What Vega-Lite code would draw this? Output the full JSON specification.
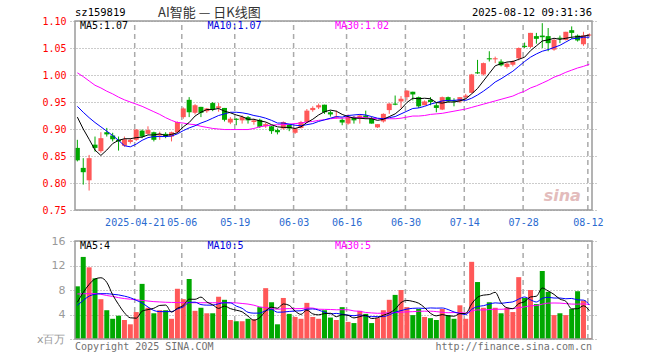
{
  "$schema": "https://vega.github.io/schema/vega-lite/v6.json",
  "width": 527,
  "height": 319,
  "autosize": {"type": "none"},
  "padding": {"left": 70, "top": 21, "right": 63, "bottom": 20},
  "background": "#ffffff",
  "config": {
    "view": {"stroke": null},
    "axis": {"labelFont": "DejaVu Sans Mono", "labelFontSize": 10},
    "text": {"font": "DejaVu Sans Mono", "fontSize": 10, "baseline": "middle"}
  },
  "data": {"values": [
{"i":0,"d":"04-07","o":0.865,"c":0.842,"h":0.880,"l":0.840,"v":8.6,"m5":0.922,"m10":0.942,"m30":1.004,"a5":6.0,"a10":5.5,"a30":7.35},
{"i":1,"d":"04-08","o":0.828,"c":0.820,"h":0.846,"l":0.797,"v":13.4,"m5":0.900,"m10":0.931,"m30":0.997,"a5":7.6,"a10":6.3,"a30":7.38},
{"i":2,"d":"04-09","o":0.805,"c":0.846,"h":0.852,"l":0.786,"v":11.7,"m5":0.881,"m10":0.921,"m30":0.989,"a5":8.9,"a10":7.0,"a30":7.4},
{"i":3,"d":"04-10","o":0.871,"c":0.865,"h":0.886,"l":0.858,"v":9.9,"m5":0.861,"m10":0.912,"m30":0.981,"a5":9.8,"a10":7.3,"a30":7.42},
{"i":4,"d":"04-11","o":0.859,"c":0.883,"h":0.894,"l":0.856,"v":6.5,"m5":0.851,"m10":0.904,"m30":0.976,"a5":10.0,"a10":7.4,"a30":7.3},
{"i":5,"d":"04-14","o":0.894,"c":0.890,"h":0.902,"l":0.886,"v":4.7,"m5":0.861,"m10":0.896,"m30":0.970,"a5":9.24,"a10":7.4,"a30":7.1},
{"i":6,"d":"04-15","o":0.888,"c":0.881,"h":0.893,"l":0.877,"v":3.3,"m5":0.873,"m10":0.888,"m30":0.965,"a5":7.22,"a10":7.3,"a30":6.95},
{"i":7,"d":"04-16","o":0.880,"c":0.877,"h":0.886,"l":0.860,"v":3.8,"m5":0.879,"m10":0.879,"m30":0.959,"a5":5.64,"a10":7.2,"a30":6.75},
{"i":8,"d":"04-17","o":0.869,"c":0.881,"h":0.886,"l":0.867,"v":3.1,"m5":0.882,"m10":0.869,"m30":0.954,"a5":4.28,"a10":7.0,"a30":6.6},
{"i":9,"d":"04-18","o":0.876,"c":0.880,"h":0.883,"l":0.873,"v":2.4,"m5":0.882,"m10":0.867,"m30":0.950,"a5":3.46,"a10":6.74,"a30":6.5},
{"i":10,"d":"04-21","o":0.880,"c":0.899,"h":0.900,"l":0.878,"v":4.4,"m5":0.884,"m10":0.872,"m30":0.946,"a5":3.4,"a10":6.32,"a30":6.4},
{"i":11,"d":"04-22","o":0.897,"c":0.886,"h":0.899,"l":0.883,"v":9.0,"m5":0.885,"m10":0.879,"m30":0.942,"a5":4.54,"a10":5.88,"a30":6.3},
{"i":12,"d":"04-23","o":0.891,"c":0.898,"h":0.905,"l":0.890,"v":5.1,"m5":0.889,"m10":0.884,"m30":0.937,"a5":4.8,"a10":5.22,"a30":6.2},
{"i":13,"d":"04-24","o":0.894,"c":0.880,"h":0.895,"l":0.877,"v":4.2,"m5":0.889,"m10":0.886,"m30":0.932,"a5":5.02,"a10":4.65,"a30":6.1},
{"i":14,"d":"04-25","o":0.888,"c":0.891,"h":0.895,"l":0.880,"v":4.7,"m5":0.891,"m10":0.886,"m30":0.927,"a5":5.48,"a10":4.47,"a30":6.05},
{"i":15,"d":"04-28","o":0.891,"c":0.886,"h":0.894,"l":0.883,"v":4.7,"m5":0.888,"m10":0.886,"m30":0.921,"a5":5.54,"a10":4.47,"a30":6.0},
{"i":16,"d":"04-29","o":0.886,"c":0.894,"h":0.895,"l":0.877,"v":3.3,"m5":0.890,"m10":0.887,"m30":0.916,"a5":4.4,"a10":4.47,"a30":5.97},
{"i":17,"d":"04-30","o":0.894,"c":0.913,"h":0.914,"l":0.892,"v":8.2,"m5":0.893,"m10":0.891,"m30":0.912,"a5":5.02,"a10":4.91,"a30":5.95},
{"i":18,"d":"05-06","o":0.922,"c":0.938,"h":0.940,"l":0.919,"v":6.5,"m5":0.904,"m10":0.897,"m30":0.911,"a5":5.48,"a10":5.25,"a30":5.93},
{"i":19,"d":"05-07","o":0.954,"c":0.931,"h":0.959,"l":0.922,"v":9.8,"m5":0.912,"m10":0.902,"m30":0.909,"a5":6.5,"a10":5.99,"a30":5.92},
{"i":20,"d":"05-08","o":0.930,"c":0.944,"h":0.946,"l":0.927,"v":4.6,"m5":0.924,"m10":0.906,"m30":0.908,"a5":6.48,"a10":6.01,"a30":5.92},
{"i":21,"d":"05-09","o":0.941,"c":0.930,"h":0.941,"l":0.922,"v":5.1,"m5":0.931,"m10":0.911,"m30":0.905,"a5":6.84,"a10":5.62,"a30":5.92},
{"i":22,"d":"05-12","o":0.933,"c":0.938,"h":0.939,"l":0.930,"v":4.2,"m5":0.936,"m10":0.915,"m30":0.903,"a5":6.04,"a10":5.53,"a30":5.92},
{"i":23,"d":"05-13","o":0.948,"c":0.936,"h":0.950,"l":0.933,"v":4.2,"m5":0.936,"m10":0.920,"m30":0.901,"a5":5.58,"a10":5.53,"a30":5.92},
{"i":24,"d":"05-14","o":0.939,"c":0.942,"h":0.948,"l":0.932,"v":6.9,"m5":0.938,"m10":0.925,"m30":0.900,"a5":5.0,"a10":5.75,"a30":5.92},
{"i":25,"d":"05-15","o":0.939,"c":0.917,"h":0.939,"l":0.914,"v":6.4,"m5":0.933,"m10":0.928,"m30":0.899,"a5":5.36,"a10":5.92,"a30":5.92},
{"i":26,"d":"05-16","o":0.912,"c":0.919,"h":0.922,"l":0.909,"v":3.1,"m5":0.930,"m10":0.931,"m30":0.899,"a5":4.96,"a10":5.9,"a30":5.92},
{"i":27,"d":"05-19","o":0.919,"c":0.917,"h":0.920,"l":0.907,"v":2.9,"m5":0.926,"m10":0.931,"m30":0.899,"a5":4.7,"a10":5.37,"a30":5.9},
{"i":28,"d":"05-20","o":0.916,"c":0.922,"h":0.925,"l":0.910,"v":2.9,"m5":0.923,"m10":0.930,"m30":0.899,"a5":4.44,"a10":5.01,"a30":5.8},
{"i":29,"d":"05-21","o":0.922,"c":0.916,"h":0.924,"l":0.910,"v":3.3,"m5":0.918,"m10":0.928,"m30":0.899,"a5":3.72,"a10":4.36,"a30":5.7},
{"i":30,"d":"05-22","o":0.913,"c":0.916,"h":0.919,"l":0.908,"v":3.2,"m5":0.918,"m10":0.925,"m30":0.901,"a5":3.08,"a10":4.22,"a30":5.52},
{"i":31,"d":"05-23","o":0.917,"c":0.904,"h":0.919,"l":0.902,"v":5.2,"m5":0.915,"m10":0.923,"m30":0.904,"a5":3.5,"a10":4.23,"a30":5.24},
{"i":32,"d":"05-26","o":0.905,"c":0.909,"h":0.912,"l":0.902,"v":8.3,"m5":0.913,"m10":0.920,"m30":0.906,"a5":4.58,"a10":4.64,"a30":5.13},
{"i":33,"d":"05-27","o":0.905,"c":0.896,"h":0.906,"l":0.891,"v":6.0,"m5":0.908,"m10":0.916,"m30":0.907,"a5":5.2,"a10":4.82,"a30":5.0},
{"i":34,"d":"05-28","o":0.898,"c":0.894,"h":0.901,"l":0.890,"v":2.4,"m5":0.904,"m10":0.911,"m30":0.908,"a5":5.02,"a10":4.37,"a30":4.86},
{"i":35,"d":"05-29","o":0.901,"c":0.913,"h":0.914,"l":0.899,"v":6.7,"m5":0.903,"m10":0.911,"m30":0.908,"a5":5.72,"a10":4.4,"a30":4.93},
{"i":36,"d":"05-30","o":0.908,"c":0.901,"h":0.909,"l":0.896,"v":4.1,"m5":0.903,"m10":0.909,"m30":0.909,"a5":5.5,"a10":4.5,"a30":4.96},
{"i":37,"d":"06-03","o":0.893,"c":0.901,"h":0.902,"l":0.891,"v":3.6,"m5":0.901,"m10":0.907,"m30":0.910,"a5":4.56,"a10":4.57,"a30":4.95},
{"i":38,"d":"06-04","o":0.902,"c":0.913,"h":0.915,"l":0.901,"v":3.3,"m5":0.904,"m10":0.906,"m30":0.911,"a5":4.02,"a10":4.61,"a30":4.96},
{"i":39,"d":"06-05","o":0.913,"c":0.934,"h":0.937,"l":0.911,"v":5.9,"m5":0.912,"m10":0.908,"m30":0.913,"a5":4.72,"a10":4.87,"a30":5.07},
{"i":40,"d":"06-06","o":0.935,"c":0.939,"h":0.942,"l":0.932,"v":3.6,"m5":0.918,"m10":0.910,"m30":0.914,"a5":4.1,"a10":4.91,"a30":5.05},
{"i":41,"d":"06-09","o":0.940,"c":0.944,"h":0.947,"l":0.937,"v":3.3,"m5":0.926,"m10":0.914,"m30":0.916,"a5":3.94,"a10":4.72,"a30":4.86},
{"i":42,"d":"06-10","o":0.945,"c":0.931,"h":0.945,"l":0.928,"v":4.7,"m5":0.932,"m10":0.917,"m30":0.917,"a5":4.16,"a10":4.36,"a30":4.84},
{"i":43,"d":"06-11","o":0.931,"c":0.927,"h":0.934,"l":0.923,"v":3.5,"m5":0.935,"m10":0.920,"m30":0.919,"a5":4.2,"a10":4.11,"a30":4.82},
{"i":44,"d":"06-12","o":0.921,"c":0.923,"h":0.934,"l":0.919,"v":3.1,"m5":0.933,"m10":0.923,"m30":0.920,"a5":3.64,"a10":4.18,"a30":4.77},
{"i":45,"d":"06-13","o":0.917,"c":0.912,"h":0.920,"l":0.907,"v":5.2,"m5":0.927,"m10":0.922,"m30":0.920,"a5":3.96,"a10":4.03,"a30":4.78},
{"i":46,"d":"06-16","o":0.910,"c":0.922,"h":0.927,"l":0.908,"v":2.8,"m5":0.923,"m10":0.925,"m30":0.921,"a5":3.86,"a10":3.9,"a30":4.77},
{"i":47,"d":"06-17","o":0.922,"c":0.916,"h":0.924,"l":0.910,"v":2.6,"m5":0.920,"m10":0.926,"m30":0.922,"a5":3.44,"a10":3.8,"a30":4.58},
{"i":48,"d":"06-18","o":0.919,"c":0.925,"h":0.927,"l":0.910,"v":4.6,"m5":0.920,"m10":0.927,"m30":0.921,"a5":3.66,"a10":3.93,"a30":4.52},
{"i":49,"d":"06-19","o":0.925,"c":0.920,"h":0.934,"l":0.919,"v":4.1,"m5":0.919,"m10":0.926,"m30":0.921,"a5":3.86,"a10":3.75,"a30":4.33},
{"i":50,"d":"06-20","o":0.920,"c":0.910,"h":0.923,"l":0.910,"v":2.6,"m5":0.919,"m10":0.923,"m30":0.920,"a5":3.34,"a10":3.65,"a30":4.26},
{"i":51,"d":"06-23","o":0.903,"c":0.909,"h":0.909,"l":0.902,"v":3.4,"m5":0.916,"m10":0.920,"m30":0.919,"a5":3.46,"a10":3.66,"a30":4.2},
{"i":52,"d":"06-24","o":0.914,"c":0.928,"h":0.929,"l":0.912,"v":4.7,"m5":0.918,"m10":0.919,"m30":0.919,"a5":3.88,"a10":3.66,"a30":4.22},
{"i":53,"d":"06-25","o":0.935,"c":0.947,"h":0.948,"l":0.928,"v":6.4,"m5":0.923,"m10":0.921,"m30":0.919,"a5":4.24,"a10":3.95,"a30":4.29},
{"i":54,"d":"06-26","o":0.947,"c":0.945,"h":0.962,"l":0.944,"v":7.2,"m5":0.928,"m10":0.923,"m30":0.919,"a5":4.86,"a10":4.36,"a30":4.3},
{"i":55,"d":"06-27","o":0.951,"c":0.956,"h":0.961,"l":0.939,"v":8.0,"m5":0.937,"m10":0.928,"m30":0.920,"a5":5.94,"a10":4.64,"a30":4.36},
{"i":56,"d":"06-30","o":0.959,"c":0.971,"h":0.972,"l":0.953,"v":5.2,"m5":0.949,"m10":0.933,"m30":0.922,"a5":6.3,"a10":4.88,"a30":4.43},
{"i":57,"d":"07-01","o":0.969,"c":0.964,"h":0.969,"l":0.953,"v":3.9,"m5":0.957,"m10":0.938,"m30":0.924,"a5":6.14,"a10":5.01,"a30":4.46},
{"i":58,"d":"07-02","o":0.959,"c":0.942,"h":0.960,"l":0.939,"v":4.9,"m5":0.956,"m10":0.939,"m30":0.924,"a5":5.84,"a10":5.04,"a30":4.53},
{"i":59,"d":"07-03","o":0.944,"c":0.951,"h":0.953,"l":0.944,"v":3.6,"m5":0.957,"m10":0.942,"m30":0.925,"a5":5.12,"a10":4.99,"a30":4.54},
{"i":60,"d":"07-04","o":0.954,"c":0.950,"h":0.959,"l":0.944,"v":3.4,"m5":0.956,"m10":0.946,"m30":0.927,"a5":4.2,"a10":5.07,"a30":4.54},
{"i":61,"d":"07-07","o":0.944,"c":0.939,"h":0.948,"l":0.931,"v":3.1,"m5":0.949,"m10":0.949,"m30":0.928,"a5":3.78,"a10":5.04,"a30":4.47},
{"i":62,"d":"07-08","o":0.936,"c":0.959,"h":0.960,"l":0.935,"v":4.9,"m5":0.948,"m10":0.952,"m30":0.929,"a5":3.98,"a10":5.06,"a30":4.36},
{"i":63,"d":"07-09","o":0.959,"c":0.951,"h":0.960,"l":0.950,"v":3.9,"m5":0.950,"m10":0.953,"m30":0.931,"a5":3.78,"a10":4.81,"a30":4.29},
{"i":64,"d":"07-10","o":0.953,"c":0.951,"h":0.957,"l":0.942,"v":3.3,"m5":0.950,"m10":0.953,"m30":0.933,"a5":3.72,"a10":4.42,"a30":4.32},
{"i":65,"d":"07-11","o":0.951,"c":0.959,"h":0.959,"l":0.948,"v":5.5,"m5":0.952,"m10":0.954,"m30":0.935,"a5":4.14,"a10":4.17,"a30":4.28},
{"i":66,"d":"07-14","o":0.959,"c":0.962,"h":0.965,"l":0.955,"v":3.3,"m5":0.956,"m10":0.953,"m30":0.937,"a5":4.18,"a10":3.98,"a30":4.25},
{"i":67,"d":"07-15","o":0.967,"c":1.001,"h":1.002,"l":0.966,"v":12.6,"m5":0.965,"m10":0.957,"m30":0.940,"a5":5.72,"a10":4.85,"a30":4.55},
{"i":68,"d":"07-16","o":1.005,"c":1.003,"h":1.028,"l":1.002,"v":9.3,"m5":0.975,"m10":0.963,"m30":0.943,"a5":6.8,"a10":5.29,"a30":4.75},
{"i":69,"d":"07-17","o":1.001,"c":1.022,"h":1.023,"l":0.999,"v":5.1,"m5":0.989,"m10":0.970,"m30":0.946,"a5":7.16,"a10":5.44,"a30":4.73},
{"i":70,"d":"07-18","o":1.031,"c":1.029,"h":1.044,"l":1.025,"v":6.0,"m5":1.003,"m10":0.978,"m30":0.949,"a5":7.26,"a10":5.7,"a30":4.81},
{"i":71,"d":"07-21","o":1.029,"c":1.031,"h":1.034,"l":1.022,"v":5.1,"m5":1.017,"m10":0.987,"m30":0.952,"a5":7.62,"a10":5.9,"a30":4.87},
{"i":72,"d":"07-22","o":1.025,"c":1.018,"h":1.029,"l":1.016,"v":4.2,"m5":1.021,"m10":0.993,"m30":0.955,"a5":5.94,"a10":5.83,"a30":4.85},
{"i":73,"d":"07-23","o":1.015,"c":1.021,"h":1.023,"l":1.012,"v":5.1,"m5":1.024,"m10":1.000,"m30":0.958,"a5":5.1,"a10":5.95,"a30":4.9},
{"i":74,"d":"07-24","o":1.019,"c":1.025,"h":1.027,"l":1.016,"v":4.4,"m5":1.025,"m10":1.007,"m30":0.961,"a5":4.96,"a10":6.06,"a30":4.95},
{"i":75,"d":"07-25","o":1.031,"c":1.050,"h":1.051,"l":1.027,"v":10.1,"m5":1.029,"m10":1.016,"m30":0.966,"a5":5.78,"a10":6.52,"a30":5.11},
{"i":76,"d":"07-28","o":1.054,"c":1.052,"h":1.060,"l":1.050,"v":6.7,"m5":1.033,"m10":1.025,"m30":0.970,"a5":6.1,"a10":6.86,"a30":5.24},
{"i":77,"d":"07-29","o":1.052,"c":1.078,"h":1.078,"l":1.050,"v":8.0,"m5":1.045,"m10":1.033,"m30":0.976,"a5":6.86,"a10":6.4,"a30":5.42},
{"i":78,"d":"07-30","o":1.072,"c":1.067,"h":1.078,"l":1.058,"v":5.7,"m5":1.054,"m10":1.039,"m30":0.980,"a5":6.98,"a10":6.04,"a30":5.46},
{"i":79,"d":"07-31","o":1.073,"c":1.070,"h":1.096,"l":1.050,"v":11.1,"m5":1.063,"m10":1.044,"m30":0.985,"a5":8.32,"a10":6.64,"a30":5.69},
{"i":80,"d":"08-01","o":1.072,"c":1.059,"h":1.087,"l":1.044,"v":7.7,"m5":1.065,"m10":1.047,"m30":0.990,"a5":7.84,"a10":6.81,"a30":5.86},
{"i":81,"d":"08-04","o":1.047,"c":1.065,"h":1.067,"l":1.045,"v":3.9,"m5":1.068,"m10":1.051,"m30":0.996,"a5":7.28,"a10":6.69,"a30":5.88},
{"i":82,"d":"08-05","o":1.069,"c":1.067,"h":1.073,"l":1.059,"v":4.2,"m5":1.066,"m10":1.055,"m30":1.000,"a5":6.52,"a10":6.69,"a30":5.86},
{"i":83,"d":"08-06","o":1.065,"c":1.080,"h":1.080,"l":1.064,"v":3.9,"m5":1.068,"m10":1.061,"m30":1.005,"a5":6.16,"a10":6.57,"a30":5.78},
{"i":84,"d":"08-07","o":1.083,"c":1.078,"h":1.090,"l":1.067,"v":4.9,"m5":1.070,"m10":1.067,"m30":1.009,"a5":4.92,"a10":6.62,"a30":5.7},
{"i":85,"d":"08-08","o":1.073,"c":1.064,"h":1.075,"l":1.062,"v":7.8,"m5":1.071,"m10":1.068,"m30":1.013,"a5":4.94,"a10":6.39,"a30":5.69},
{"i":86,"d":"08-11","o":1.057,"c":1.073,"h":1.080,"l":1.054,"v":6.3,"m5":1.072,"m10":1.070,"m30":1.016,"a5":5.42,"a10":6.35,"a30":5.73},
{"i":87,"d":"08-12","o":1.073,"c":1.075,"h":1.077,"l":1.071,"v":0.16,"m5":1.074,"m10":1.070,"m30":1.020,"a5":4.62,"a10":5.57,"a30":5.61}
  ]},
  "layer": [
    {
      "layer": [
        {
          "transform": [{"filter": {"field": "d", "oneOf": ["04-21", "05-06", "05-19", "06-03", "06-16", "06-30", "07-14", "07-28", "08-12"]}}],
          "mark": {"type": "rule", "color": "#aaaaaa", "strokeWidth": 1.5, "strokeDash": [5, 4], "xOffset": -1.5},
          "encoding": {
            "x": {
              "field": "i", "type": "quantitative", "title": null,
              "scale": {"domain": [-0.4, 87.45], "nice": false, "zero": false},
              "axis": {
                "title": null,
                "values": [9.75, 17.75, 26.75, 36.75, 45.75, 55.75, 65.75, 75.75, 86.75],
                "labelExpr": "datum.value < 10 ? '2025-04-21' : datum.value < 18 ? '05-06' : datum.value < 27 ? '05-19' : datum.value < 37 ? '06-03' : datum.value < 46 ? '06-16' : datum.value < 56 ? '06-30' : datum.value < 66 ? '07-14' : datum.value < 76 ? '07-28' : '08-12'",
                "grid": false, "ticks": false, "domain": false,
                "labelColor": "#2a6ad0", "labelPadding": 7, "offset": -130,
                "labelFlush": 8, "labelOverlap": false
              }
            },
            "y": {"datum": 0.75, "type": "quantitative", "title": null,
              "scale": {"domain": [0.75, 1.10], "range": [189, 0], "nice": false, "zero": false},
              "axis": {
                "title": null, "values": [0.75, 0.8, 0.85, 0.9, 0.95, 1.0, 1.05, 1.1], "format": ".2f",
                "labelColor": "#ff0000", "grid": true, "gridColor": "#999999", "gridDash": [1, 2],
                "ticks": false, "domain": false, "labelPadding": 4
              }
            },
            "y2": {"datum": 1.10}
          }
        },
        {
          "mark": {"type": "rule", "strokeWidth": 1},
          "encoding": {
            "x": {"field": "i", "type": "quantitative", "title": null},
            "y": {"field": "l", "type": "quantitative", "title": null},
            "y2": {"field": "h"},
            "color": {"condition": {"test": "datum.c >= datum.o", "value": "#ff5858"}, "value": "#00a800"}
          }
        },
        {
          "mark": {"type": "bar", "width": 5},
          "encoding": {
            "x": {"field": "i", "type": "quantitative", "title": null},
            "y": {"field": "o", "type": "quantitative", "title": null},
            "y2": {"field": "c"},
            "color": {"condition": {"test": "datum.c >= datum.o", "value": "#ff5858"}, "value": "#00a800"}
          }
        },
        {
          "mark": {"type": "line", "color": "#ff00ff", "strokeWidth": 1},
          "encoding": {"x": {"field": "i", "type": "quantitative", "title": null}, "y": {"field": "m30", "type": "quantitative", "title": null}}
        },
        {
          "mark": {"type": "line", "color": "#0000ff", "strokeWidth": 1},
          "encoding": {"x": {"field": "i", "type": "quantitative", "title": null}, "y": {"field": "m10", "type": "quantitative", "title": null}}
        },
        {
          "mark": {"type": "line", "color": "#000000", "strokeWidth": 1},
          "encoding": {"x": {"field": "i", "type": "quantitative", "title": null}, "y": {"field": "m5", "type": "quantitative", "title": null}}
        },
        {
          "data": {"values": [{}]},
          "mark": {"type": "rect", "fillOpacity": 0, "stroke": "#9a9a9a", "strokeWidth": 1.5},
          "encoding": {
            "x": {"datum": -0.4, "type": "quantitative"}, "x2": {"datum": 87.45},
            "y": {"datum": 0.75, "type": "quantitative"}, "y2": {"datum": 1.10}
          }
        },
        {
          "data": {"values": [{}]},
          "mark": {"type": "text", "align": "left", "color": "#000000", "text": "MA5:1.07"},
          "encoding": {"x": {"datum": 0.43, "type": "quantitative"}, "y": {"datum": 1.0907, "type": "quantitative"}}
        },
        {
          "data": {"values": [{}]},
          "mark": {"type": "text", "align": "left", "color": "#0000e0", "text": "MA10:1.07"},
          "encoding": {"x": {"datum": 22.1, "type": "quantitative"}, "y": {"datum": 1.0907, "type": "quantitative"}}
        },
        {
          "data": {"values": [{}]},
          "mark": {"type": "text", "align": "left", "color": "#ff00ff", "text": "MA30:1.02"},
          "encoding": {"x": {"datum": 43.77, "type": "quantitative"}, "y": {"datum": 1.0907, "type": "quantitative"}}
        },
        {
          "data": {"values": [{}]},
          "mark": {"type": "text", "align": "left", "color": "#000000", "fontSize": 10.5, "text": "sz159819"},
          "encoding": {"x": {"datum": -0.4, "type": "quantitative"}, "y": {"datum": 1.1155, "type": "quantitative"}}
        },
        {
          "data": {"values": [{}]},
          "mark": {"type": "text", "align": "center", "color": "#333333", "font": "Noto Sans CJK SC", "fontSize": 13, "text": "AI智能 — 日K线图"},
          "encoding": {"x": {"datum": 22.43, "type": "quantitative"}, "y": {"datum": 1.1155, "type": "quantitative"}}
        },
        {
          "data": {"values": [{}]},
          "mark": {"type": "text", "align": "right", "color": "#000000", "fontSize": 10.5, "text": "2025-08-12 09:31:36"},
          "encoding": {"x": {"datum": 87.45, "type": "quantitative"}, "y": {"datum": 1.1155, "type": "quantitative"}}
        },
        {
          "data": {"values": [{}]},
          "mark": {"type": "text", "align": "center", "color": "#e3bcbc", "font": "DejaVu Sans", "fontWeight": "bold", "fontStyle": "italic", "fontSize": 16, "text": "sina"},
          "encoding": {"x": {"datum": 82.4, "type": "quantitative"}, "y": {"datum": 0.776, "type": "quantitative"}}
        }
      ]
    },
    {
      "layer": [
        {
          "transform": [{"filter": {"field": "d", "oneOf": ["04-21", "05-06", "05-19", "06-03", "06-16", "06-30", "07-14", "07-28", "08-12"]}}],
          "mark": {"type": "rule", "color": "#aaaaaa", "strokeWidth": 1.5, "strokeDash": [5, 4], "xOffset": -1.5},
          "encoding": {
            "x": {"field": "i", "type": "quantitative", "title": null},
            "y": {"datum": 0, "type": "quantitative", "title": null,
              "scale": {"domain": [0, 16], "range": [318, 220], "nice": false, "zero": false},
              "axis": {
                "orient": "left", "title": null, "values": [0, 4, 8, 12, 16],
                "labelExpr": "datum.value == 0 ? 'x百万' : datum.label",
                "labelColor": "#999999", "labelFont": "DejaVu Sans", "labelFontSize": 11,
                "grid": true, "gridColor": "#999999", "gridDash": [1, 2],
                "ticks": false, "domain": false, "labelPadding": 5
              }
            },
            "y2": {"datum": 16}
          }
        },
        {
          "mark": {"type": "bar", "width": 5},
          "encoding": {
            "x": {"field": "i", "type": "quantitative", "title": null},
            "y": {"field": "v", "type": "quantitative", "title": null},
            "color": {"condition": {"test": "datum.c >= datum.o", "value": "#ff5858"}, "value": "#00a800"}
          }
        },
        {
          "mark": {"type": "line", "color": "#ff00ff", "strokeWidth": 1, "interpolate": "monotone"},
          "encoding": {"x": {"field": "i", "type": "quantitative", "title": null}, "y": {"field": "a30", "type": "quantitative", "title": null}}
        },
        {
          "mark": {"type": "line", "color": "#0000ff", "strokeWidth": 1, "interpolate": "monotone"},
          "encoding": {"x": {"field": "i", "type": "quantitative", "title": null}, "y": {"field": "a10", "type": "quantitative", "title": null}}
        },
        {
          "mark": {"type": "line", "color": "#000000", "strokeWidth": 1, "interpolate": "monotone"},
          "encoding": {"x": {"field": "i", "type": "quantitative", "title": null}, "y": {"field": "a5", "type": "quantitative", "title": null}}
        },
        {
          "data": {"values": [{}]},
          "mark": {"type": "rect", "fillOpacity": 0, "stroke": "#9a9a9a", "strokeWidth": 1.5},
          "encoding": {
            "x": {"datum": -0.4, "type": "quantitative"}, "x2": {"datum": 87.45},
            "y": {"datum": 0, "type": "quantitative"}, "y2": {"datum": 16}
          }
        },
        {
          "data": {"values": [{}]},
          "mark": {"type": "text", "align": "left", "color": "#000000", "text": "MA5:4"},
          "encoding": {"x": {"datum": 0.43, "type": "quantitative"}, "y": {"datum": 15.2, "type": "quantitative"}}
        },
        {
          "data": {"values": [{}]},
          "mark": {"type": "text", "align": "left", "color": "#0000e0", "text": "MA10:5"},
          "encoding": {"x": {"datum": 22.1, "type": "quantitative"}, "y": {"datum": 15.2, "type": "quantitative"}}
        },
        {
          "data": {"values": [{}]},
          "mark": {"type": "text", "align": "left", "color": "#ff00ff", "text": "MA30:5"},
          "encoding": {"x": {"datum": 43.77, "type": "quantitative"}, "y": {"datum": 15.2, "type": "quantitative"}}
        },
        {
          "data": {"values": [{}]},
          "mark": {"type": "text", "align": "left", "color": "#707070", "text": "Copyright 2025 SINA.COM"},
          "encoding": {"x": {"datum": -0.4, "type": "quantitative"}, "y": {"datum": -1.35, "type": "quantitative"}}
        },
        {
          "data": {"values": [{}]},
          "mark": {"type": "text", "align": "right", "color": "#707070", "text": "http://finance.sina.com.cn"},
          "encoding": {"x": {"datum": 87.45, "type": "quantitative"}, "y": {"datum": -1.35, "type": "quantitative"}}
        }
      ]
    }
  ],
  "resolve": {"scale": {"y": "independent"}, "axis": {"y": "independent"}}
}
